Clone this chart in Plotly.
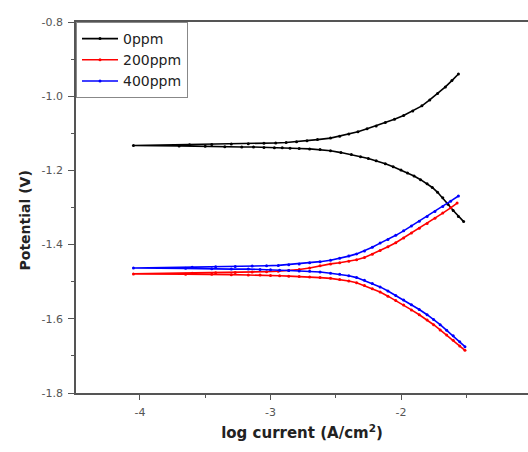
import plotly.graph_objects as go

# log current / potential pairs, sweep from cathodic end through Ecorr to anodic end
x_0ppm = [-1.52, -1.56, -1.60, -1.64, -1.68, -1.72, -1.76, -1.80, -1.85, -1.90, -1.95, -2.00,
          -2.06, -2.12, -2.19, -2.25, -2.31, -2.38, -2.46, -2.54, -2.62, -2.70, -2.78, -2.85,
          -2.91, -2.97, -3.05, -3.13, -3.22, -3.35, -3.50, -3.70, -4.05,
          -3.62, -3.45, -3.30, -3.17, -3.05, -2.96, -2.88, -2.80, -2.72, -2.64, -2.54, -2.47,
          -2.40, -2.33, -2.26, -2.19, -2.12, -2.05, -1.98, -1.91, -1.84, -1.78, -1.72, -1.66,
          -1.61, -1.56]
y_0ppm = [-1.338, -1.324, -1.308, -1.291, -1.274, -1.259, -1.246, -1.236, -1.225, -1.215, -1.207, -1.199,
          -1.190, -1.182, -1.174, -1.168, -1.163, -1.157, -1.152, -1.147, -1.144, -1.142, -1.141, -1.140,
          -1.139, -1.139, -1.138, -1.137, -1.137, -1.136, -1.135, -1.134, -1.133,
          -1.131, -1.130, -1.129, -1.128, -1.127, -1.126, -1.125, -1.123, -1.120, -1.117, -1.113, -1.108,
          -1.102, -1.096, -1.088, -1.080, -1.071, -1.062, -1.052, -1.040, -1.026, -1.010, -0.993, -0.975,
          -0.958, -0.940]

x_200ppm = [-1.51, -1.55, -1.60, -1.65, -1.70, -1.75, -1.80, -1.86, -1.92, -1.98, -2.04, -2.10,
            -2.16, -2.22, -2.28, -2.34, -2.40, -2.47, -2.54, -2.62, -2.70, -2.78, -2.86, -2.93,
            -3.00, -3.08, -3.17, -3.30, -3.45, -3.65, -4.05,
            -3.60, -3.42, -3.27, -3.14, -3.03, -2.94, -2.86, -2.78, -2.70, -2.62, -2.54, -2.47,
            -2.40, -2.34, -2.28, -2.22, -2.16, -2.10, -2.04, -1.98, -1.92, -1.86, -1.80, -1.74,
            -1.68, -1.62, -1.57]
y_200ppm = [-1.685, -1.673, -1.658, -1.644, -1.630, -1.616, -1.603, -1.589, -1.576, -1.563, -1.551, -1.539,
            -1.528, -1.519, -1.510, -1.503, -1.498, -1.494, -1.491, -1.489, -1.487, -1.486, -1.485, -1.484,
            -1.483, -1.482, -1.482, -1.481, -1.480, -1.480, -1.479,
            -1.477, -1.476, -1.475, -1.474, -1.473, -1.472, -1.470, -1.467, -1.463, -1.457, -1.452, -1.449,
            -1.445, -1.441, -1.435, -1.426, -1.416, -1.406, -1.395, -1.382, -1.369, -1.356, -1.343, -1.329,
            -1.315, -1.301, -1.288]

x_400ppm = [-1.51, -1.55, -1.60, -1.65, -1.70, -1.75, -1.80, -1.86, -1.92, -1.98, -2.04, -2.10,
            -2.16, -2.22, -2.28, -2.34, -2.40, -2.47, -2.54, -2.62, -2.70, -2.78, -2.86, -2.93,
            -3.00, -3.08, -3.17, -3.30, -3.45, -3.65, -4.05,
            -3.60, -3.42, -3.27, -3.14, -3.03, -2.94, -2.86, -2.78, -2.70, -2.62, -2.54, -2.47,
            -2.40, -2.34, -2.28, -2.22, -2.16, -2.10, -2.04, -1.98, -1.92, -1.86, -1.80, -1.74,
            -1.68, -1.62, -1.56]
y_400ppm = [-1.675, -1.662, -1.646, -1.631, -1.616, -1.602, -1.589, -1.575, -1.562, -1.549, -1.537, -1.525,
            -1.514, -1.505, -1.496, -1.489, -1.484, -1.480, -1.477, -1.474, -1.472, -1.471, -1.470, -1.469,
            -1.468, -1.467, -1.466, -1.466, -1.465, -1.464, -1.463,
            -1.461, -1.460, -1.459, -1.458, -1.457, -1.456, -1.454, -1.452, -1.449, -1.446, -1.442, -1.437,
            -1.431, -1.425, -1.417, -1.407, -1.396, -1.386, -1.375, -1.363, -1.350, -1.337, -1.324, -1.311,
            -1.297, -1.283, -1.269]

series_names = ["0ppm", "200ppm", "400ppm"]
series_colors = ["#000000", "#ff0000", "#0000ff"]

x_tickvals = [-4, -3, -2]
x_ticktext = ["-4", "-3", "-2"]
y_tickvals = [-1.8, -1.6, -1.4, -1.2, -1.0, -0.8]
y_ticktext = ["-1.8", "-1.6", "-1.4", "-1.2", "-1.0", "-0.8"]

fig = go.Figure()
for name, xs, ys, col in zip(series_names, [x_0ppm, x_200ppm, x_400ppm],
                             [y_0ppm, y_200ppm, y_400ppm], series_colors):
    fig.add_trace(go.Scatter(x=xs, y=ys, name=name, mode="lines+markers",
                             line=dict(color=col, width=1.6),
                             marker=dict(color=col, size=3)))

axis_color = "#555555"
fig.update_layout(
    width=528, height=452,
    margin=dict(l=76, r=0, t=22, b=59, autoexpand=False),
    paper_bgcolor="white", plot_bgcolor="white",
    font=dict(family="DejaVu Sans, Liberation Sans, sans-serif", color="#333333"),
    showlegend=True,
    legend=dict(x=0.0, y=1.0, xanchor="left", yanchor="top",
                bgcolor="white", bordercolor="#888888", borderwidth=1,
                font=dict(size=14, color="#222222"),
                tracegroupgap=0, itemwidth=36),
    xaxis=dict(range=[-4.49, -1.027], tickvals=x_tickvals, ticktext=x_ticktext,
               showgrid=False, zeroline=False, showline=True, linecolor=axis_color, linewidth=1.5,
               mirror=True, ticks="outside", ticklen=5, tickcolor=axis_color, tickwidth=1,
               minor=dict(dtick=0.5, ticks="outside", ticklen=3, tickcolor=axis_color, showgrid=False),
               tickfont=dict(size=11, color="#555555"), ticklabelstandoff=3,
               title=dict(text="<b>log current (A/cm<sup>2</sup>)</b>", font=dict(size=15, color="#222222"),
                          standoff=10)),
    yaxis=dict(range=[-1.8, -0.8], tickvals=y_tickvals, ticktext=y_ticktext,
               showgrid=False, zeroline=False, showline=True, linecolor=axis_color, linewidth=1.5,
               mirror=False, ticks="outside", ticklen=6, tickcolor=axis_color, tickwidth=1,
               minor=dict(dtick=0.1, ticks="outside", ticklen=3, tickcolor=axis_color, showgrid=False),
               tickfont=dict(size=11, color="#555555"), ticklabelstandoff=3),
    annotations=[dict(text="<b>Potential (V)</b>", textangle=-90, showarrow=False,
                      xref="paper", yref="paper", x=0, y=0.5, xanchor="center", yanchor="middle",
                      xshift=-52, yshift=-13, font=dict(size=14, color="#222222"))],
)

fig.write_html("out.html", config={"displayModeBar": False},
               post_script="document.body.style.margin='0';document.body.style.overflow='hidden';")
